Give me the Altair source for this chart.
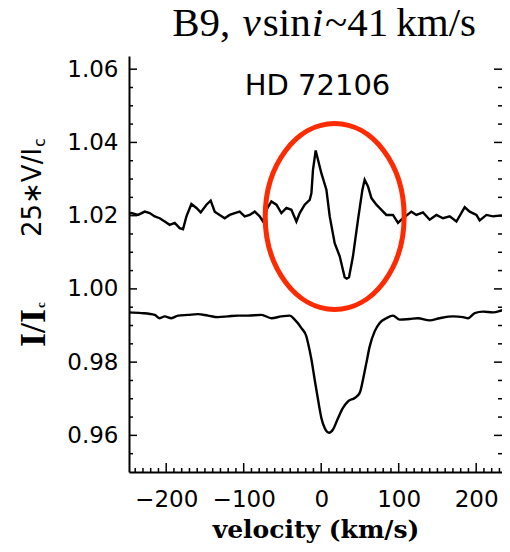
import altair as alt
import pandas as pd

# ---- data ----
vel_v = [-248, -244.9, -236.4, -227.7, -221.3, -214.8, -208.4, -201.9, -195.5, -189.0,
         -182.6, -178.3, -173.9, -167.5, -161.0, -155.5, -148.1, -142.6, -137.4, -131.0,
         -124.5, -118.1, -111.6, -105.2, -98.7, -92.3, -85.8, -79.4, -75.1, -70.7,
         -64.3, -57.8, -51.4, -44.9, -38.5, -32.0, -27.7, -21.3, -14.8, -12.6,
         -10.6, -7.1, 0.2, 6.7, 11.0, 17.4, 23.9, 30.3, 33.0, 35.9,
         41.0, 47.5, 53.2, 56.1, 60.4, 64.8, 71.2, 77.7, 84.1, 92.6,
         99.1, 105.5, 116.4, 122.8, 131.4, 140.0, 148.6, 157.2, 165.8, 174.5,
         185.2, 191.6, 200.3, 204.5, 213.2, 221.7, 230.3, 241.0, 243.2]
stokes_v = [1.0205, 1.0207, 1.0202, 1.0211, 1.0207, 1.0198, 1.0193, 1.0184, 1.0175, 1.0180,
            1.0166, 1.0163, 1.0198, 1.0232, 1.0221, 1.0209, 1.0230, 1.0241, 1.0211, 1.0202,
            1.0193, 1.0202, 1.0207, 1.0211, 1.0198, 1.0202, 1.0211, 1.0198, 1.0184, 1.0216,
            1.0239, 1.0230, 1.0207, 1.0221, 1.0216, 1.0184, 1.0207, 1.0230, 1.0243, 1.0262,
            1.0325, 1.0378, 1.0316, 1.0271, 1.0198, 1.0125, 1.0089, 1.0032, 1.0028, 1.0032,
            1.0089, 1.0189, 1.0271, 1.0298, 1.0280, 1.0248, 1.0230, 1.0216, 1.0202, 1.0202,
            1.0180, 1.0193, 1.0211, 1.0202, 1.0209, 1.0189, 1.0202, 1.0193, 1.0198, 1.0184,
            1.0223, 1.0211, 1.0202, 1.0187, 1.0202, 1.0198, 1.0200, 1.0202, 1.0201]

vel_i = [-248, -232.0, -214.8, -208.4, -201.9, -193.3, -184.8, -171.9, -159.0, -146.1,
         -133.2, -120.3, -107.4, -94.5, -77.2, -64.3, -51.4, -40.6, -34.2, -25.5,
         -19.1, -17.0, -12.6, -8.4, -4.1, 0.3, 4.5, 10.1, 15.2, 21.7,
         28.1, 34.6, 43.2, 49.7, 53.9, 58.3, 62.6, 69.0, 75.5, 84.1,
         92.6, 101.3, 114.2, 124.9, 140.0, 152.9, 170.1, 183.0, 189.4, 198.1,
         208.8, 221.7, 232.5, 243.2]
stokes_i = [0.9936, 0.9934, 0.9929, 0.9920, 0.9925, 0.9920, 0.9927, 0.9929, 0.9931, 0.9927,
            0.9923, 0.9925, 0.9927, 0.9927, 0.9929, 0.9920, 0.9925, 0.9927, 0.9916, 0.9893,
            0.9870, 0.9852, 0.9807, 0.9752, 0.9698, 0.9647, 0.9620, 0.9607, 0.9616, 0.9647,
            0.9675, 0.9693, 0.9702, 0.9716, 0.9752, 0.9798, 0.9843, 0.9884, 0.9907, 0.9920,
            0.9927, 0.9916, 0.9918, 0.9920, 0.9914, 0.9920, 0.9925, 0.9923, 0.9920, 0.9934,
            0.9938, 0.9936, 0.9941, 0.9948]

y_major = [0.96, 0.98, 1.00, 1.02, 1.04, 1.06]
y_minor = [0.955, 0.965, 0.97, 0.975, 0.985, 0.99, 0.995, 1.005, 1.01, 1.015,
           1.025, 1.03, 1.035, 1.045, 1.05, 1.055]
x_major = [-200, -100, 0, 100, 200]
x_minor = [v for v in range(-240, 240, 10) if v % 100 != 0]

ellipse_x = [17.4]
ellipse_y = [1.0198]

title_parts = ["B9,", "v", "sin", "i", "~41", "km/s"]
title_italic = [False, True, False, True, False, False]

# ---- layout ----
W, H = 373, 416
X_MIN, X_MAX = -248, 233.3
xs = alt.Scale(domain=[X_MIN, X_MAX], nice=False, zero=False)
ys = alt.Scale(domain=[0.95, 1.0636], nice=False, zero=False)

X_AXIS = alt.Axis(values=x_major, title="velocity (km/s)",
                  titleFont="DejaVu Serif", titleFontWeight="bold", titleColor="black",
                  titleFontSize=25, titleY=65, titleBaseline="alphabetic",
                  labelPadding=16, ticks=False, grid=False, domain=True,
                  domainColor="black", domainWidth=2,
                  labelFont="DejaVu Sans", labelFontSize=23, labelColor="black")
Y_AXIS = alt.Axis(values=y_major, format=".2f", title=None, labelPadding=11,
                  ticks=False, grid=False, domain=True, domainColor="black", domainWidth=2,
                  labelFont="DejaVu Sans", labelFontSize=23, labelColor="black")

df_v = pd.DataFrame({"x": vel_v, "y": stokes_v})
df_i = pd.DataFrame({"x": vel_i, "y": stokes_i})


def X():
    return alt.X("x:Q", scale=xs, axis=X_AXIS)


def Y():
    return alt.Y("y:Q", scale=ys, axis=Y_AXIS)


line_v = alt.Chart(df_v).mark_line(color="black", strokeWidth=2.4, clip=True).encode(x=X(), y=Y())
line_i = alt.Chart(df_i).mark_line(color="black", strokeWidth=2.4, clip=True,
                                   interpolate="monotone").encode(x=X(), y=Y())

ELLIPSE = "M -0.747 0 A 0.747 1 0 1 1 0.747 0 A 0.747 1 0 1 1 -0.747 0 Z"
ellipse = alt.Chart(pd.DataFrame({"x": ellipse_x, "y": ellipse_y})).mark_point(
    shape=ELLIPSE, size=34596, filled=False, color="#fe2a00", strokeWidth=5, opacity=1
).encode(x=X(), y=Y())


def yticks(vals, length, right=False):
    x0 = W if right else 0
    x1 = W - length if right else length
    return alt.Chart(pd.DataFrame({"y": vals})).mark_rule(color="black", strokeWidth=1.5).encode(
        y=Y(), x=alt.value(x0), x2=alt.value(x1))


def xticks(vals, length):
    return alt.Chart(pd.DataFrame({"x": vals})).mark_rule(color="black", strokeWidth=1.5).encode(
        x=X(), y=alt.value(H), y2=alt.value(H - length))


def label(text, x, y, size, font, weight="normal", style="normal", angle=0, align="left",
          baseline="alphabetic"):
    return alt.Chart(pd.DataFrame({"t": [text]})).mark_text(
        font=font, fontSize=size, fontWeight=weight, fontStyle=style, angle=angle,
        align=align, baseline=baseline, color="black"
    ).encode(text="t:N", x=alt.value(x), y=alt.value(y))


# title pieces (Times-like serif, mixed italic)
TS = 41
widths = [1.667, 0.444, 1.167, 0.278, 1.541, 1.945]
gaps = [2, 2, 1, 2, 8, 0]
total = sum(widths) * TS + sum(gaps) - 0.25 * TS
start = 190 - total / 2
title_layers = []
pos = start
for part, it, w, g in zip(title_parts, title_italic, widths, gaps):
    title_layers.append(label(part, pos, -20, TS, "Liberation Serif",
                              style="italic" if it else "normal"))
    pos += w * TS + g

texts = title_layers + [
    label("HD  72106", 188.5, 39, 29, "DejaVu Sans", align="center"),
    label("25\u2217V/I", -88, 181, 26, "DejaVu Sans", angle=270),
    label("c", -84, 91, 16, "DejaVu Sans", angle=270),
    label("I/I", -84, 291, 36, "Liberation Serif", weight="bold", angle=270),
    label("c", -84, 252, 13, "Liberation Serif", weight="bold", angle=270),
]

chart = alt.layer(
    line_v, line_i,
    yticks(y_major, 8), yticks(y_minor, 4),
    yticks(y_major, 8, right=True), yticks(y_minor, 4, right=True),
    xticks(x_major, 9), xticks(x_minor, 4),
    ellipse,
    *texts,
).properties(
    width=W, height=H,
    autosize=alt.AutoSizeParams(type="none"),
    padding={"left": 121, "top": 48, "right": 0, "bottom": 72},
).configure_view(stroke=None)

chart.save("out.html", embed_options={"renderer": "svg", "actions": False})
